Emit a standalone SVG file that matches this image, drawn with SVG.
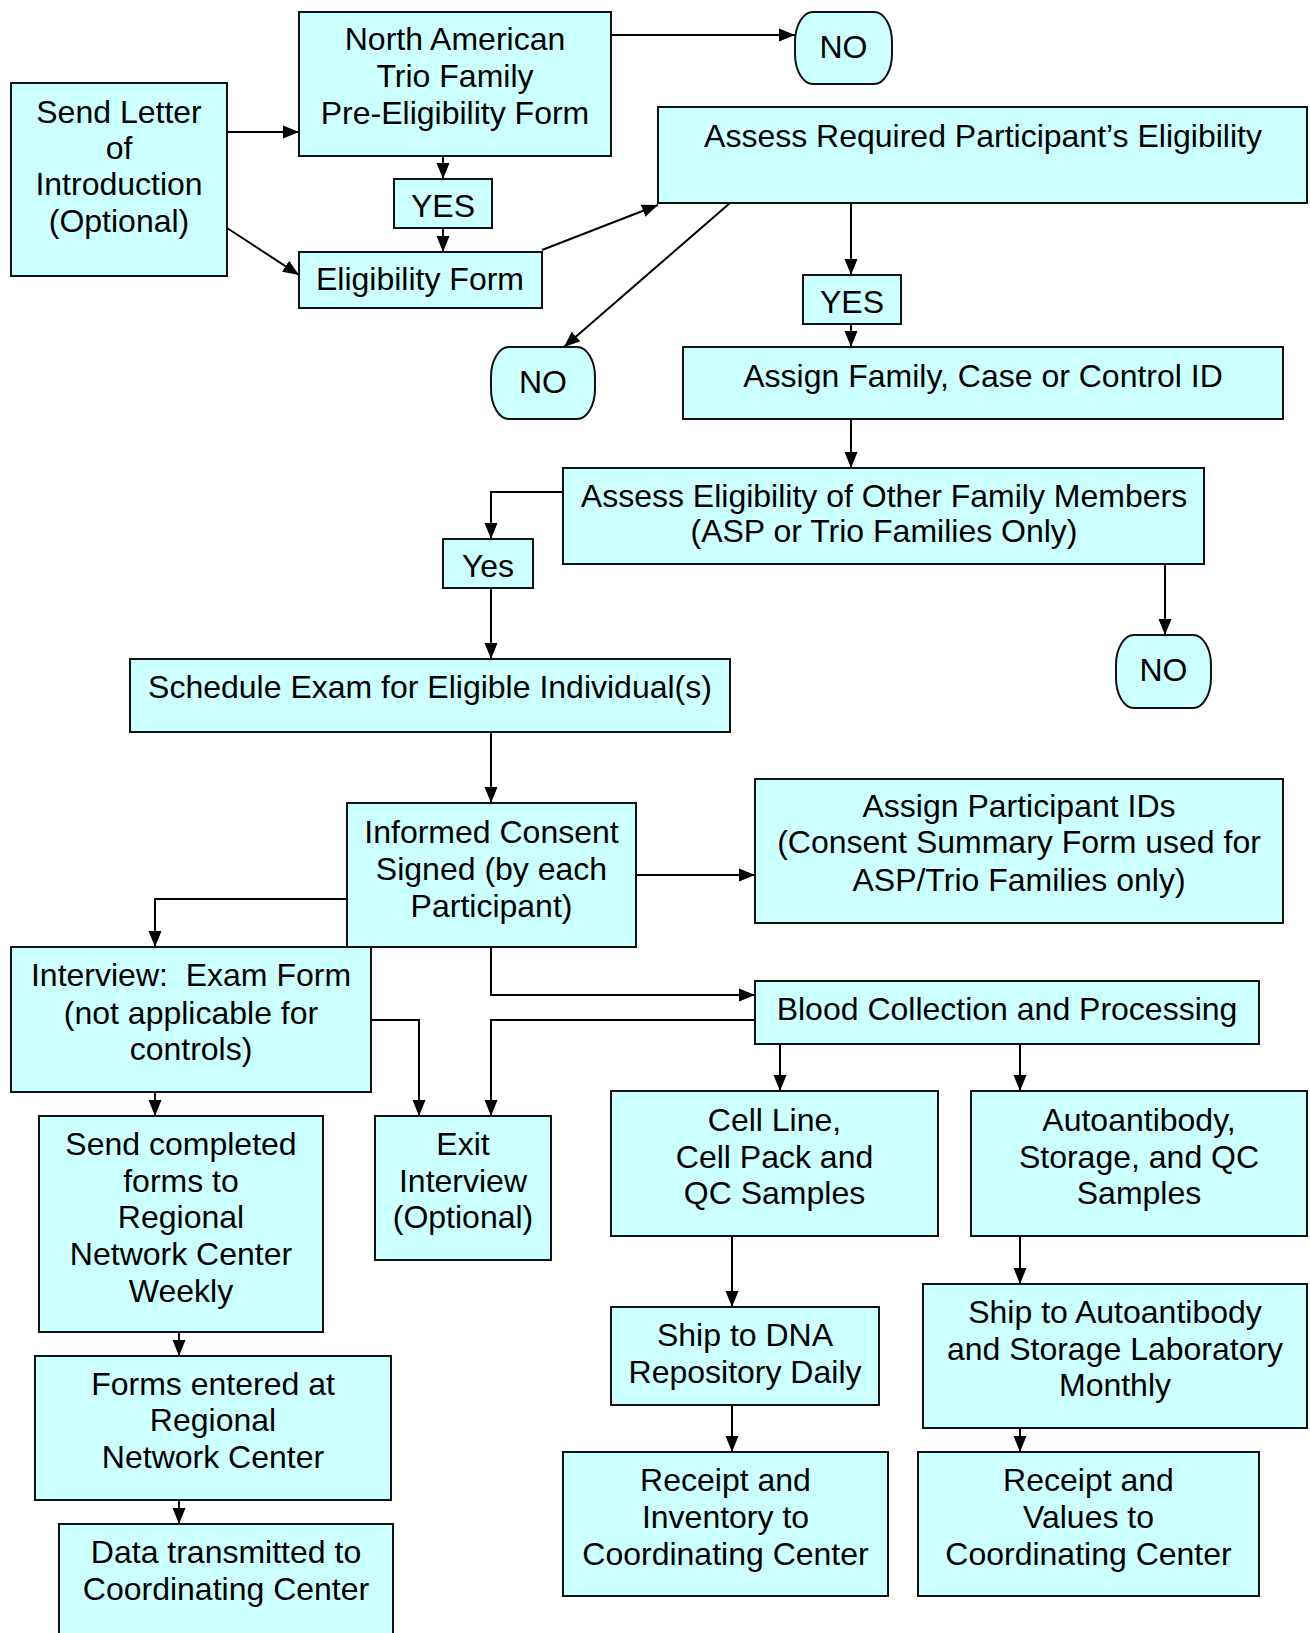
<svg xmlns="http://www.w3.org/2000/svg" width="1310" height="1633" viewBox="0 0 1310 1633">
<defs>
<marker id="ah" markerUnits="userSpaceOnUse" markerWidth="16" markerHeight="14" refX="16" refY="7" orient="auto">
<path d="M0,0.5 L16,7 L0,13.5 z" fill="#000"/>
</marker>
<style>
.b{fill:#CCFFFF;stroke:#111;stroke-width:2}
.t{font-family:"Liberation Sans",Arial,sans-serif;font-size:32px;fill:#000;text-anchor:middle}
.c{fill:none;stroke:#000;stroke-width:2;marker-end:url(#ah)}
</style>
</defs>
<rect width="1310" height="1633" fill="#fff"/>
<g id="connectors">
<path class="c" d="M227,132 H299"/>
<path class="c" d="M227,228 L299,275"/>
<path class="c" d="M611,35 H795"/>
<path class="c" d="M443,156 V179"/>
<path class="c" d="M443,228 V252"/>
<path class="c" d="M542,250 L658,205"/>
<path class="c" d="M730,203 L564,347"/>
<path class="c" d="M851,203 V275"/>
<path class="c" d="M851,324 V347"/>
<path class="c" d="M851,419 V468"/>
<path class="c" d="M563,492 H491 V539"/>
<path class="c" d="M1165,564 V635"/>
<path class="c" d="M491,588 V659"/>
<path class="c" d="M491,732 V803"/>
<path class="c" d="M636,875 H755"/>
<path class="c" d="M347,899 H155 V947"/>
<path class="c" d="M491,947 V995 H755"/>
<path class="c" d="M755,1020 H491 V1116"/>
<path class="c" d="M371,1020 H419 V1116"/>
<path class="c" d="M155,1092 V1116"/>
<path class="c" d="M179,1332 V1356"/>
<path class="c" d="M179,1500 V1524"/>
<path class="c" d="M780,1044 V1091"/>
<path class="c" d="M1020,1044 V1091"/>
<path class="c" d="M732,1236 V1307"/>
<path class="c" d="M732,1405 V1452"/>
<path class="c" d="M1020,1236 V1284"/>
<path class="c" d="M1020,1428 V1452"/>
</g>
<g id="send-letter"><rect class="b" x="11" y="83" width="216" height="193"/>
<text class="t" x="119" y="123">Send Letter</text><text class="t" x="119" y="159">of</text><text class="t" x="119" y="195">Introduction</text><text class="t" x="119" y="232">(Optional)</text></g>
<g id="pre-elig"><rect class="b" x="299" y="12" width="312" height="144"/>
<text class="t" x="455" y="50">North American</text><text class="t" x="455" y="87">Trio Family</text><text class="t" x="455" y="124">Pre-Eligibility Form</text></g>
<g id="no-1"><rect class="b" x="795" y="12" width="97" height="72" rx="18" ry="30"/><text class="t" x="843.5" y="58">NO</text></g>
<g id="yes-1"><rect class="b" x="394" y="179" width="98" height="49"/><text class="t" x="443" y="217">YES</text></g>
<g id="elig-form"><rect class="b" x="299" y="252" width="243" height="56"/><text class="t" x="420" y="290">Eligibility Form</text></g>
<g id="assess-req"><rect class="b" x="658" y="107" width="649" height="96"/><text class="t" x="983" y="147">Assess Required Participant’s Eligibility</text></g>
<g id="yes-2"><rect class="b" x="803" y="275" width="98" height="49"/><text class="t" x="852" y="313">YES</text></g>
<g id="no-2"><rect class="b" x="491" y="347" width="104" height="72" rx="18" ry="30"/><text class="t" x="543" y="393">NO</text></g>
<g id="assign-family"><rect class="b" x="683" y="347" width="600" height="72"/><text class="t" x="983" y="387">Assign Family, Case or Control ID</text></g>
<g id="assess-other"><rect class="b" x="563" y="468" width="641" height="96"/>
<text class="t" x="884" y="507">Assess Eligibility of Other Family Members</text><text class="t" x="884" y="542">(ASP or Trio Families Only)</text></g>
<g id="yes-3"><rect class="b" x="443" y="539" width="90" height="49"/><text class="t" x="488" y="577">Yes</text></g>
<g id="no-3"><rect class="b" x="1116" y="635" width="95" height="73" rx="18" ry="30"/><text class="t" x="1163.5" y="681">NO</text></g>
<g id="schedule"><rect class="b" x="130" y="659" width="600" height="73"/><text class="t" x="430" y="698">Schedule Exam for Eligible Individual(s)</text></g>
<g id="consent"><rect class="b" x="347" y="803" width="289" height="144"/>
<text class="t" x="491.5" y="843">Informed Consent</text><text class="t" x="491.5" y="880">Signed (by each</text><text class="t" x="491.5" y="917">Participant)</text></g>
<g id="assign-pids"><rect class="b" x="755" y="779" width="528" height="144"/>
<text class="t" x="1019" y="817">Assign Participant IDs</text><text class="t" x="1019" y="853">(Consent Summary Form used for</text><text class="t" x="1019" y="891">ASP/Trio Families only)</text></g>
<g id="interview"><rect class="b" x="11" y="947" width="360" height="145"/>
<text class="t" x="191" y="986" xml:space="preserve">Interview:  Exam Form</text><text class="t" x="191" y="1024">(not applicable for</text><text class="t" x="191" y="1060">controls)</text></g>
<g id="blood"><rect class="b" x="755" y="981" width="504" height="63"/><text class="t" x="1007" y="1020">Blood Collection and Processing</text></g>
<g id="send-forms"><rect class="b" x="39" y="1116" width="284" height="216"/>
<text class="t" x="181" y="1155">Send completed</text><text class="t" x="181" y="1192">forms to</text><text class="t" x="181" y="1228">Regional</text><text class="t" x="181" y="1265">Network Center</text><text class="t" x="181" y="1302">Weekly</text></g>
<g id="exit"><rect class="b" x="375" y="1116" width="176" height="144"/>
<text class="t" x="463" y="1155">Exit</text><text class="t" x="463" y="1192">Interview</text><text class="t" x="463" y="1228">(Optional)</text></g>
<g id="cell-line"><rect class="b" x="611" y="1091" width="327" height="145"/>
<text class="t" x="774.5" y="1131">Cell Line,</text><text class="t" x="774.5" y="1168">Cell Pack and</text><text class="t" x="774.5" y="1204">QC Samples</text></g>
<g id="autoantibody"><rect class="b" x="971" y="1091" width="336" height="145"/>
<text class="t" x="1139" y="1131">Autoantibody,</text><text class="t" x="1139" y="1168">Storage, and QC</text><text class="t" x="1139" y="1204">Samples</text></g>
<g id="forms-entered"><rect class="b" x="35" y="1356" width="356" height="144"/>
<text class="t" x="213" y="1395">Forms entered at</text><text class="t" x="213" y="1431">Regional</text><text class="t" x="213" y="1468">Network Center</text></g>
<g id="ship-dna"><rect class="b" x="611" y="1307" width="268" height="98"/>
<text class="t" x="745" y="1346">Ship to DNA</text><text class="t" x="745" y="1383">Repository Daily</text></g>
<g id="ship-auto"><rect class="b" x="923" y="1284" width="384" height="144"/>
<text class="t" x="1115" y="1323">Ship to Autoantibody</text><text class="t" x="1115" y="1360">and Storage Laboratory</text><text class="t" x="1115" y="1396">Monthly</text></g>
<g id="data-transmitted"><rect class="b" x="59" y="1524" width="334" height="130"/>
<text class="t" x="226" y="1563">Data transmitted to</text><text class="t" x="226" y="1600">Coordinating Center</text></g>
<g id="receipt-inventory"><rect class="b" x="563" y="1452" width="325" height="144"/>
<text class="t" x="725.5" y="1491">Receipt and</text><text class="t" x="725.5" y="1528">Inventory to</text><text class="t" x="725.5" y="1565">Coordinating Center</text></g>
<g id="receipt-values"><rect class="b" x="918" y="1452" width="341" height="144"/>
<text class="t" x="1088.5" y="1491">Receipt and</text><text class="t" x="1088.5" y="1528">Values to</text><text class="t" x="1088.5" y="1565">Coordinating Center</text></g>
</svg>
